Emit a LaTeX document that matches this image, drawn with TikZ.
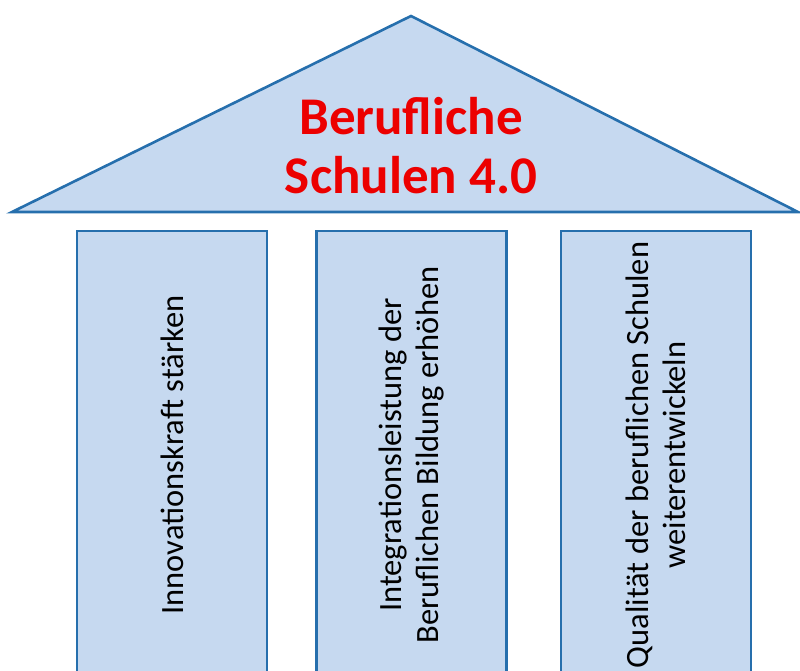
\documentclass[tikz,border=0pt]{standalone}
\usepackage{fontspec}
\setmainfont{Carlito}
\definecolor{pillarfill}{RGB}{198,217,240}
\definecolor{pillarline}{RGB}{38,111,173}
\definecolor{titlered}{RGB}{236,0,0}
\begin{document}
\begin{tikzpicture}
[x=1pt, y=1pt, line width=2.6pt,
       pillar/.style={draw=pillarline, fill=pillarfill, rectangle, rotate=90,
                      minimum width=448pt, minimum height=190pt, inner sep=0pt,
                      align=center, font=\fontsize{32.5}{36.5}\selectfont}]
  \useasboundingbox (0,0) rectangle (800,671);
  \clip (0,0) rectangle (800,671);
  % roof
  \coordinate (apex) at (411,655);
  \coordinate (eaveL) at (12,459);
  \coordinate (eaveR) at (798,459);
  \draw[pillarline, fill=pillarfill, line join=miter] (eaveL) -- (apex) -- (eaveR) -- cycle;
  \node[text=titlered, align=center, font=\fontsize{53}{59}\selectfont\bfseries]
     (title) at (411,525) {Berufliche\\Schulen 4.0};
  % pillars
  \node[pillar] (innovation) at (172,216) {Innovationskraft stärken};
  \node[pillar] (integration) at (411.5,216) {Integrationsleistung der\\Beruflichen Bildung erhöhen};
  \node[pillar] (quality) at (656,216) {Qualität der beruflichen Schulen\\weiterentwickeln};
\end{tikzpicture}
\end{document}
